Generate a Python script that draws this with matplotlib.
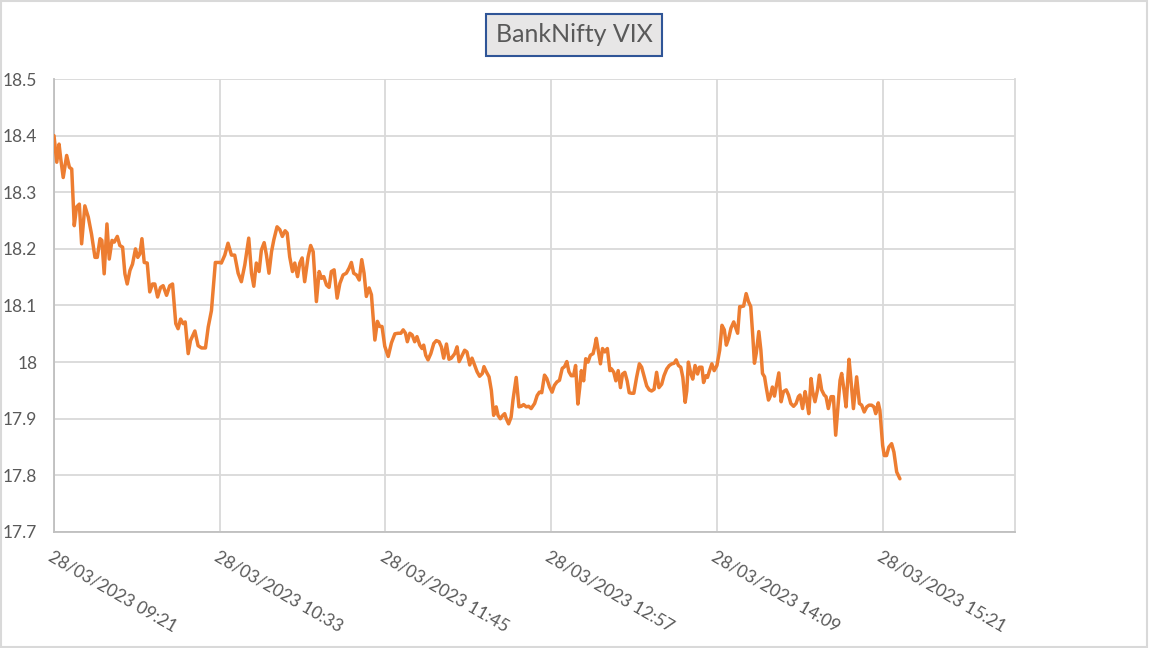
import matplotlib
matplotlib.use("Agg")
import matplotlib.pyplot as plt
from matplotlib.patches import Rectangle

plt.rcParams['font.family'] = ['Lato', 'DejaVu Sans']

# minutes after 28/03/2023 09:21 and the VIX reading
minutes = [
    0, 1.2, 2.2, 2.9, 4.0, 5.5, 6.7, 7.7, 8.8, 9.8, 11.0, 12.0, 13.4, 14.9, 16.3, 17.8,
    18.8, 20.0, 20.8, 21.8, 23.0, 24.0, 25.2, 26.2, 27.5, 28.6, 29.8, 30.8, 31.8, 33.0,
    34.1, 35.4, 36.4, 37.3, 38.2, 39.2, 40.5, 41.6, 42.8, 43.8, 45.0, 46.3, 47.4, 48.9,
    50.3, 51.5, 52.9, 53.9, 55.0, 56.1, 57.0, 58.3, 59.3, 61.2, 62.6, 64.1, 65.8, 67.0,
    68.4, 70.1, 72.0,
    72.7, 74.2, 75.6, 77.1, 78.5, 80.0, 81.4, 82.9, 84.6, 85.8, 86.8, 87.9, 89.1, 90.1,
    91.3, 92.3, 93.4, 94.5, 95.5, 96.9, 98.1, 99.2, 100.4, 101.3, 102.4, 103.6, 104.6,
    105.8, 106.8, 107.8, 108.9, 110.4, 111.5, 112.6, 114.0, 115.2, 116.2, 117.2, 118.4,
    119.5, 120.5, 121.7, 123.0, 124.2, 125.6, 127.0, 128.2, 129.2, 130.2, 131.4, 132.6,
    133.7, 134.7, 135.7, 136.9, 137.9, 139.4, 140.5, 141.5, 142.5, 143.7, 145.2, 146.6,
    148.1, 149.5,
    150.7, 151.7, 152.7, 153.5, 154.6, 155.6, 156.7, 157.7, 158.9, 159.9, 160.6, 161.5,
    162.5, 163.7, 165.0, 166.1, 167.3, 168.3, 169.3, 170.5, 171.6, 172.6, 174.1, 175.1,
    176.0, 177.3, 178.4, 179.4, 180.6, 181.6, 182.7, 183.8, 184.9, 186.1, 186.8, 187.8,
    189.0, 190.0, 191.0, 192.1, 192.9, 193.9, 195.0, 195.8, 196.5, 197.5, 198.6, 199.4,
    200.8, 202.0, 203.0, 204.0, 205.2, 206.2, 207.3, 208.8, 209.9, 210.9, 211.9, 213.1,
    214.1, 215.3, 216.4, 217.4, 218.5, 219.6, 220.8, 221.8, 222.8, 223.7,
    224.7, 225.7, 226.6, 227.6, 228.4, 229.1, 230.1, 231.0, 232.0, 233.0, 234.2, 234.9,
    235.6, 236.7, 237.4, 238.3, 239.3, 240.4, 241.5, 242.2, 243.2, 244.1, 245.1, 246.1,
    247.0, 248.0, 249.0, 249.9, 250.9, 251.9, 253.1, 254.3, 255.3, 256.3, 257.5, 258.6,
    259.6, 260.7, 261.8, 262.8, 264.0, 265.0, 266.2, 267.3, 268.4, 269.4, 270.3, 271.3,
    272.3, 273.2, 274.2, 274.9, 275.6, 276.7, 277.5, 278.5, 279.6, 280.4, 281.5, 282.2,
    283.2, 283.9, 284.8, 285.8, 286.8, 288.0, 289.2, 290.2, 291.2, 292.1, 293.1, 294.1,
    295.3, 296.0, 297.0, 297.9,
    298.4, 299.6, 300.7, 301.7, 302.7, 303.6, 304.3, 305.1, 306.2, 307.1, 307.8, 308.7,
    309.4, 310.4, 311.1, 312.1, 313.0, 314.0, 314.9, 315.9, 316.9, 318.1, 319.1, 320.1,
    321.3, 322.4, 323.4, 324.1, 325.2, 326.3, 327.0, 327.9, 328.9, 329.6, 330.6, 331.7,
    332.5, 333.5, 334.6, 335.4, 336.4, 337.6, 338.6, 339.6, 340.5, 341.5, 342.2, 343.2,
    344.1, 345.4, 346.1, 347.3, 348.7, 349.9, 350.9, 352.0, 353.1, 354.1, 355.2, 356.2,
    357.0, 358.1, 358.8, 360.0, 360.7, 361.7, 362.7, 363.9, 364.9, 366.1, 367.5,
]
vix = [
    18.400, 18.353, 18.385, 18.360, 18.326, 18.365, 18.344, 18.341, 18.241, 18.274, 18.279,
    18.209, 18.276, 18.256, 18.226, 18.185, 18.185, 18.218, 18.215, 18.156, 18.244, 18.182,
    18.215, 18.212, 18.222, 18.206, 18.203, 18.156, 18.138, 18.162, 18.173, 18.200, 18.185,
    18.191, 18.218, 18.176, 18.175, 18.124, 18.138, 18.138, 18.115, 18.132, 18.135, 18.118,
    18.135, 18.138, 18.068, 18.059, 18.076, 18.068, 18.071, 18.015, 18.038, 18.055, 18.029,
    18.025, 18.025, 18.062, 18.091, 18.176, 18.176,
    18.175, 18.189, 18.210, 18.189, 18.189, 18.157, 18.142, 18.172, 18.219, 18.157, 18.134,
    18.175, 18.160, 18.198, 18.211, 18.189, 18.157, 18.195, 18.216, 18.239, 18.234, 18.222,
    18.232, 18.228, 18.186, 18.160, 18.175, 18.151, 18.175, 18.184, 18.142, 18.186, 18.206,
    18.195, 18.107, 18.160, 18.148, 18.151, 18.136, 18.132, 18.160, 18.163, 18.113, 18.139,
    18.154, 18.157, 18.166, 18.176, 18.157, 18.154, 18.145, 18.181, 18.157, 18.116, 18.131,
    18.119, 18.039, 18.072, 18.063, 18.063, 18.028, 18.010, 18.034, 18.050, 18.051,
    18.051, 18.057, 18.051, 18.036, 18.051, 18.048, 18.036, 18.045, 18.030, 18.024, 18.030,
    18.012, 18.004, 18.015, 18.033, 18.038, 18.036, 18.027, 18.007, 18.032, 18.005, 18.007,
    18.015, 18.027, 18.001, 18.012, 18.021, 18.018, 17.995, 18.007, 17.995, 17.983, 17.975,
    17.980, 17.992, 17.983, 17.974, 17.950, 17.906, 17.921, 17.906, 17.900, 17.906, 17.909,
    17.900, 17.891, 17.903, 17.933, 17.973, 17.921, 17.922, 17.925, 17.921, 17.922, 17.918,
    17.927, 17.941, 17.947, 17.946, 17.977, 17.971, 17.956, 17.947, 17.959, 17.965, 17.968,
    17.989, 17.992, 18.001, 17.983,
    17.976, 17.976, 17.994, 17.926, 17.955, 17.985, 17.967, 18.006, 18.000, 18.012, 18.015,
    18.027, 18.042, 18.015, 17.997, 18.024, 18.018, 18.024, 17.985, 17.988, 17.982, 17.967,
    17.985, 17.955, 17.979, 17.982, 17.967, 17.946, 17.945, 17.945, 17.973, 17.997, 17.991,
    17.976, 17.958, 17.951, 17.949, 17.952, 17.982, 17.955, 17.961, 17.976, 17.988, 17.994,
    17.997, 17.998, 18.004, 17.994, 17.991, 17.973, 17.929, 17.949, 18.000, 17.979, 17.970,
    17.994, 17.979, 17.991, 17.991, 17.964, 17.976, 17.973, 17.985, 17.997, 17.985, 17.994,
    18.021, 18.065, 18.057, 18.030, 18.042, 18.060, 18.071, 18.063, 18.051, 18.098,
    18.098, 18.099, 18.121, 18.107, 18.098, 18.045, 17.998, 18.016, 18.054, 18.021, 17.980,
    17.974, 17.956, 17.933, 17.939, 17.956, 17.940, 17.962, 17.981, 17.930, 17.948, 17.951,
    17.942, 17.927, 17.922, 17.927, 17.939, 17.942, 17.918, 17.948, 17.933, 17.909, 17.971,
    17.948, 17.930, 17.951, 17.977, 17.951, 17.942, 17.939, 17.918, 17.939, 17.939, 17.871,
    17.918, 17.968, 17.980, 17.951, 17.921, 18.005, 17.974, 17.918, 17.974, 17.927, 17.924,
    17.912, 17.921, 17.924, 17.924, 17.921, 17.909, 17.928, 17.915, 17.853, 17.835, 17.835,
    17.850, 17.856, 17.841, 17.806, 17.794,
]

tick_minutes = [0, 72, 144, 216, 288, 360]
tick_labels = ["28/03/2023 09:21", "28/03/2023 10:33", "28/03/2023 11:45",
               "28/03/2023 12:57", "28/03/2023 14:09", "28/03/2023 15:21"]
y_ticks = [17.7, 17.8, 17.9, 18.0, 18.1, 18.2, 18.3, 18.4, 18.5]
y_labels = ["17.7", "17.8", "17.9", "18", "18.1", "18.2", "18.3", "18.4", "18.5"]

text_col = "#595959"
grid_col = "#d9d9d9"

fig = plt.figure(figsize=(11.49, 6.48), dpi=100)
fig.patches.append(Rectangle((0.001, 0.002), 0.997, 0.996, transform=fig.transFigure,
                             fill=False, edgecolor="#d9d9d9", linewidth=1.5))

ax = fig.add_axes([54 / 1149, 1 - 532 / 648, (1015 - 54) / 1149, (532 - 79) / 648])
ax.plot(minutes, vix, color="#ed7d31", linewidth=2.5, solid_joinstyle="round",
        solid_capstyle="round", zorder=3)

ax.set_xlim(0, 417.5)
ax.set_ylim(17.7, 18.5)
ax.set_xticks(tick_minutes)
ax.set_xticklabels(tick_labels, rotation=-30, ha="left", va="top",
                   rotation_mode="anchor", fontsize=12.5, color=text_col)
ax.set_yticks(y_ticks)
ax.set_yticklabels(y_labels, fontsize=12.5, color=text_col)
ax.tick_params(axis="both", length=0)
ax.tick_params(axis="x", pad=12)
ax.tick_params(axis="y", pad=12)
for lab in ax.get_xticklabels():
    lab.set_x(lab.get_position()[0])

ax.grid(True, color=grid_col, linewidth=1.3, zorder=0)
ax.spines["top"].set_visible(False)
ax.spines["right"].set_color(grid_col)
ax.spines["right"].set_linewidth(1.3)
ax.spines["left"].set_color("#bfbfbf")
ax.spines["bottom"].set_color("#bfbfbf")
ax.spines["left"].set_linewidth(1.3)
ax.spines["bottom"].set_linewidth(1.3)

fig.text(574 / 1149, 1 - 35 / 648, "BankNifty VIX", ha="center", va="center",
         fontsize=18, color=text_col,
         bbox=dict(boxstyle="square,pad=0.38", facecolor="#e7e6e6",
                   edgecolor="#2f5597", linewidth=1.5))

fig.savefig("out.png", dpi=100)
